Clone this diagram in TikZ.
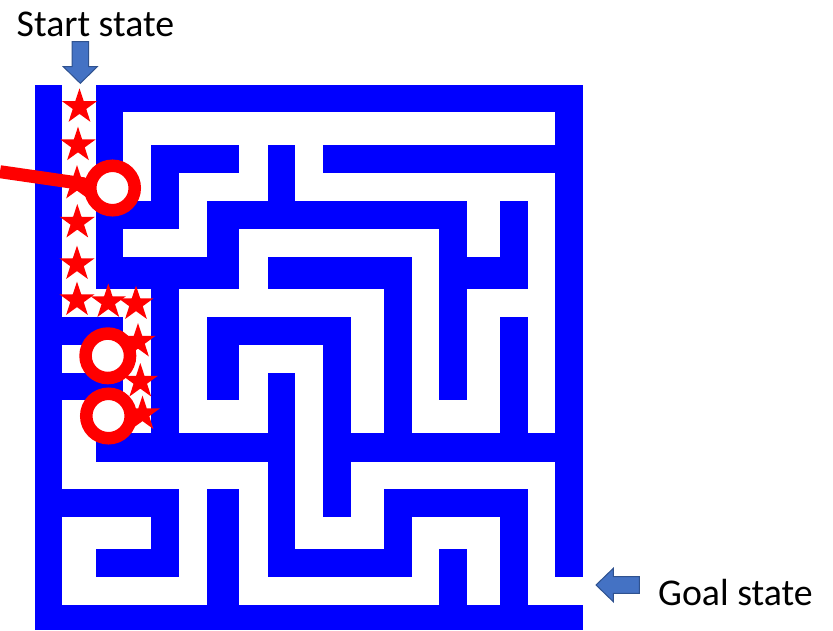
\documentclass[tikz,border=0pt]{standalone}
\usepackage{fontspec}
\setmainfont{Carlito}
\usepackage{tikz}
\usetikzlibrary{shapes.geometric}

\definecolor{mazeblue}{RGB}{0,0,255}
\definecolor{arrowfill}{RGB}{68,114,196}
\definecolor{arrowedge}{RGB}{47,82,143}

% grid lines of the maze (left to right, top to bottom)
\newcommand{\mazex}{{35,62.3,96,123.3,151,179,206.7,239.3,267.7,295,322.7,350.7,384,411.7,439.3,466.7,500,527.7,555,582.7}}
\newcommand{\mazey}{{85,112.3,145,173.3,201.3,229,256.7,289.3,316.7,345,372.7,400,433.3,461.7,489.3,516.7,549.3,576.7,605,630}}

\tikzset{
  wall/.style={fill=mazeblue},
  trailstar/.style={star, star points=5, star point ratio=2.6, fill=red, minimum size=37pt, inner sep=0pt},
  deadend/.style={circle, draw=red, fill=white, line width=12.5pt, minimum size=44.5pt, inner sep=0pt},
  trailline/.style={draw=red, line width=13pt},
  pointer/.style={fill=arrowfill, draw=arrowedge, line width=1pt},
  statetext/.style={font=\fontsize{37.8}{45}\selectfont, inner sep=0pt}
}

\begin{document}
\begin{tikzpicture}[x=1pt, y=-1pt]
  \useasboundingbox (0,0) rectangle (833,630);

  % Walls, as grid indices: col/row to col/row
  \foreach \ca/\ra/\cb/\rb in {
    0/0/1/19, 2/0/19/1, 18/0/19/17, 0/18/19/19,
    2/1/3/7, 4/2/7/3, 4/2/5/5, 3/4/4/5, 8/2/9/4, 10/2/18/3,
    6/4/15/5, 6/4/7/7, 16/4/17/7, 14/4/15/11,
    2/6/7/7, 8/6/13/7, 14/6/17/7, 12/6/13/13, 4/6/5/13,
    1/8/3/9, 6/8/11/9, 6/8/7/11, 10/8/11/15, 16/8/17/12,
    1/10/3/11, 8/10/9/17, 2/12/9/13, 10/12/19/13,
    1/14/5/15, 4/14/5/17, 2/16/5/17, 6/14/7/18,
    12/14/17/15, 12/14/13/17, 16/14/17/18, 8/16/13/17, 14/16/15/18} {
    \pgfmathsetmacro{\xa}{\mazex[\ca]}
    \pgfmathsetmacro{\ya}{\mazey[\ra]}
    \pgfmathsetmacro{\xb}{\mazex[\cb]}
    \pgfmathsetmacro{\yb}{\mazey[\rb]}
    \fill[wall] (\xa,\ya) rectangle (\xb,\yb);
  }

  % Stars along the path
  \foreach \sx/\sy [count=\i] in {79.5/106.8, 78/145.2, 77/183.5, 77.3/222.5, 77/264,
      77/300, 108.3/302, 136/304, 138/341.5, 140.3/381.5, 142.5/414} {
    \node[trailstar] (star\i) at (\sx,\sy) {};
  }

  % Dead ends
  \node[deadend] (ring1) at (112.5,188) {};
  \node[deadend] (ring2) at (107.8,355.8) {};
  \node[deadend] (ring3) at (108.5,416) {};
  \coordinate (lineend) at (0,171.7);
  \draw[trailline] (lineend) -- (ring1);

  % Start and goal
  \coordinate (starttip) at (80.3,83.3);
  \draw[pointer] (starttip) -- ++(-17,-16.6) -- ++(8.7,0) -- ++(0,-25)
    -- ++(16.6,0) -- ++(0,25) -- ++(8.7,0) -- cycle;
  \node[statetext, anchor=base west] (starttext) at (16.5,36.7) {Start state};

  \coordinate (goaltip) at (596,585);
  \draw[pointer] (goaltip) -- ++(17.3,-16.7) -- ++(0,8.4) -- ++(26,0)
    -- ++(0,16.6) -- ++(-26,0) -- ++(0,8.4) -- cycle;
  \node[statetext, anchor=base west] (goaltext) at (658,605) {Goal state};
\end{tikzpicture}
\end{document}
